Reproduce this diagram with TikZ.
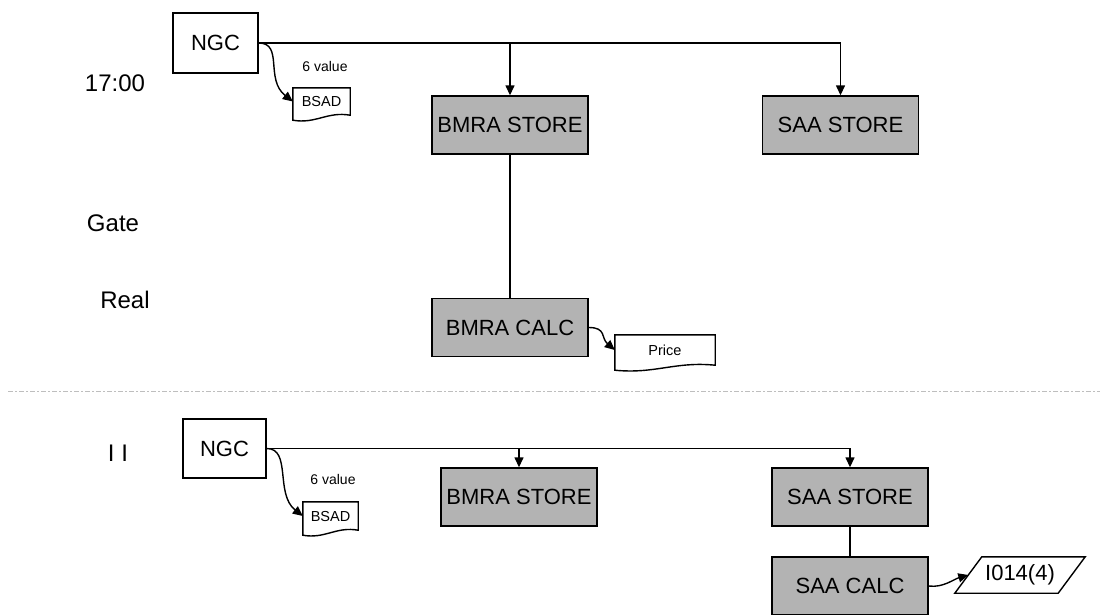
\documentclass[tikz,border=0pt]{standalone}
\usepackage{fontspec}
\setmainfont{Liberation Sans}
\usetikzlibrary{calc}
\usetikzlibrary{arrows.meta}
\definecolor{boxgray}{RGB}{179,179,179}
\definecolor{linegray}{RGB}{190,190,190}
\tikzset{
  unit/.style={draw, line width=1.4pt, fill=boxgray, minimum width=156pt, minimum height=58pt, inner sep=0pt, font=\fontsize{22}{26}\selectfont},
  source/.style={unit, fill=white, minimum width=85pt, minimum height=60pt},
  docbox/.style={inner sep=0pt, font=\fontsize{14.5}{16}\selectfont},
  timelabel/.style={font=\fontsize{24}{28}\selectfont},
  note/.style={font=\fontsize{14}{16}\selectfont},
  link/.style={line width=1.4pt},
  feed/.style={link, -{Triangle[length=10pt,width=9pt]}}
}
\newcommand{\docedge}[1]{%
  \draw[link] (#1.south west) -- (#1.north west) -- (#1.north east) -- (#1.south east)
    .. controls ($(#1.south east)!0.4!(#1.south west)+(0,-4)$) and ($(#1.south east)!0.6!(#1.south west)+(0,9)$) .. ($(#1.south west)+(0,5)$) -- cycle;}

\begin{document}
\begin{tikzpicture}[x=1pt,y=-1pt]
    \useasboundingbox (0,0) rectangle (1100,614);
    % time labels
    \node[timelabel] (t1700) at (115,83) {17:00};
    \node[timelabel] (tgate) at (113,223) {Gate};
    \node[timelabel] (treal) at (125,300) {Real};
    \node[timelabel] (tII) at (118,453) {I I};

    % upper run
    \node[source] (ngcA) at (215.5,43) {NGC};
    \node[unit] (bmraStoreA) at (510,125) {BMRA STORE};
    \node[unit] (saaStoreA) at (840.5,125) {SAA STORE};
    \node[unit] (bmraCalcA) at (510,327.5) {BMRA CALC};
    \node[docbox, minimum width=57pt, minimum height=27pt] (bsadA) at (321.5,101.5) {BSAD};
    \node[docbox, minimum width=100pt, minimum height=30pt] (priceA) at (665,350) {Price};
    \node[note] (valA) at (325,66) {6 value};
    \docedge{bsadA}
    \docedge{priceA}
    \draw[feed] (ngcA.east) -| (saaStoreA.north);
    \draw[feed] (ngcA.east -| bmraStoreA.north) -- (bmraStoreA.north);
    \draw[link] (bmraStoreA.south) -- (bmraCalcA.north);
    \draw[feed] (ngcA.east) .. controls +(25,0) and +(-28,-22) .. (bsadA.west);
    \draw[feed] (bmraCalcA.east) .. controls +(18,0) and +(-14,-12) .. (priceA.west);

    \draw[linegray, line width=0.8pt, dash pattern=on 5pt off 2pt on 2pt off 2pt] (8,391) -- (1100,391);

    % lower run
    \node[source, minimum width=83pt, minimum height=59pt] (ngcB) at (224.5,448.5) {NGC};
    \node[unit] (bmraStoreB) at (519,497) {BMRA STORE};
    \node[unit] (saaStoreB) at (850,497) {SAA STORE};
    \node[unit] (saaCalcB) at (850,586) {SAA CALC};
    \node[docbox, minimum width=55pt, minimum height=28pt] (bsadB) at (330.5,516) {BSAD};
    \node[docbox, minimum width=130pt, minimum height=36pt, font=\fontsize{22}{26}\selectfont] (ioB) at (1020,575) {I014(4)};
    \node[note] (valB) at (333,479) {6 value};
    \docedge{bsadB}
    \draw[link] (ioB.south west) -- ($(ioB.north west)+(27,0)$) -- (ioB.north east) -- ($(ioB.south east)+(-27,0)$) -- cycle;
    \draw[feed] (ngcB.east) -| (saaStoreB.north);
    \draw[feed] (ngcB.east -| bmraStoreB.north) -- (bmraStoreB.north);
    \draw[link] (saaStoreB.south) -- (saaCalcB.north);
    \draw[feed] (ngcB.east) .. controls +(25,0) and +(-28,-22) .. (bsadB.west);
    \draw[feed] (saaCalcB.east) .. controls +(14,2) and +(-14,4) .. ($(ioB.west)+(13.5,0)$);
\end{tikzpicture}
\end{document}
